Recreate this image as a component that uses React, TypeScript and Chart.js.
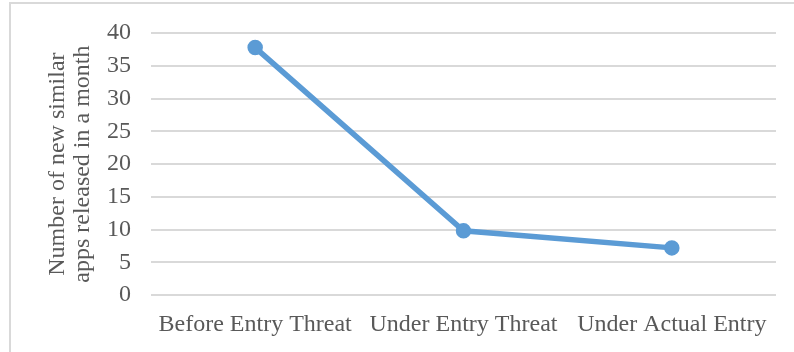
import React, { useEffect, useRef } from "react";
import { Chart, registerables } from "chart.js";

Chart.register(...registerables);

const categories = ["Before Entry Threat", "Under Entry Threat", "Under Actual Entry"];
const newApps = [37.8, 9.8, 7.2];
const yTitle = ["Number of new similar", "apps released in a month"];

const FONT = "'Liberation Serif', 'Times New Roman', serif";
const TEXT = "#595959";
const GRID = "#d9d9d9";
const LINE = "#5b9bd5";

export default function App() {
  const ref = useRef<HTMLCanvasElement | null>(null);

  useEffect(() => {
    if (!ref.current) return;
    const chart = new Chart(ref.current, {
      type: "line",
      data: {
        labels: categories,
        datasets: [
          {
            data: newApps,
            borderColor: LINE,
            backgroundColor: LINE,
            borderWidth: 5.5,
            pointRadius: 7,
            pointBorderWidth: 1.5,
            pointBackgroundColor: LINE,
            pointBorderColor: LINE,
            tension: 0,
          },
        ],
      },
      options: {
        animation: false,
        responsive: false,
        maintainAspectRatio: false,
        layout: { padding: { left: 45, right: 18, top: 20, bottom: 0 } },
        plugins: { legend: { display: false }, tooltip: { enabled: false }, title: { display: false } },
        scales: {
          x: {
            offset: true,
            grid: { display: false, drawTicks: false },
            border: { display: false },
            ticks: { color: TEXT, font: { family: FONT, size: 24 }, padding: 15, maxRotation: 0 },
            afterFit: (scale: any) => {
              scale.height = 57;
            },
          },
          y: {
            min: 0,
            max: 40,
            grid: { color: GRID, lineWidth: 2, drawTicks: false },
            border: { display: false },
            ticks: { stepSize: 5, color: TEXT, font: { family: FONT, size: 24, lineHeight: 1.1 }, padding: 20 },
            title: {
              display: true,
              text: yTitle,
              color: TEXT,
              font: { family: FONT, size: 24, lineHeight: 1.05 },
              padding: { top: 0, bottom: 0 },
            },
            afterFit: (scale: any) => {
              scale.width = 106;
            },
          },
        },
      },
    });
    return () => chart.destroy();
  }, []);

  return (
    <div
      style={{
        position: "fixed",
        left: 0,
        top: 0,
        width: 794,
        height: 352,
        overflow: "hidden",
        background: "#fff",
      }}
    >
      <canvas ref={ref} width={794} height={352} style={{ position: "absolute", left: 0, top: 0 }} />
      <div
        style={{
          position: "absolute",
          left: 9,
          top: 2,
          width: 820,
          height: 380,
          border: `2px solid ${GRID}`,
          pointerEvents: "none",
        }}
      />
    </div>
  );
}
